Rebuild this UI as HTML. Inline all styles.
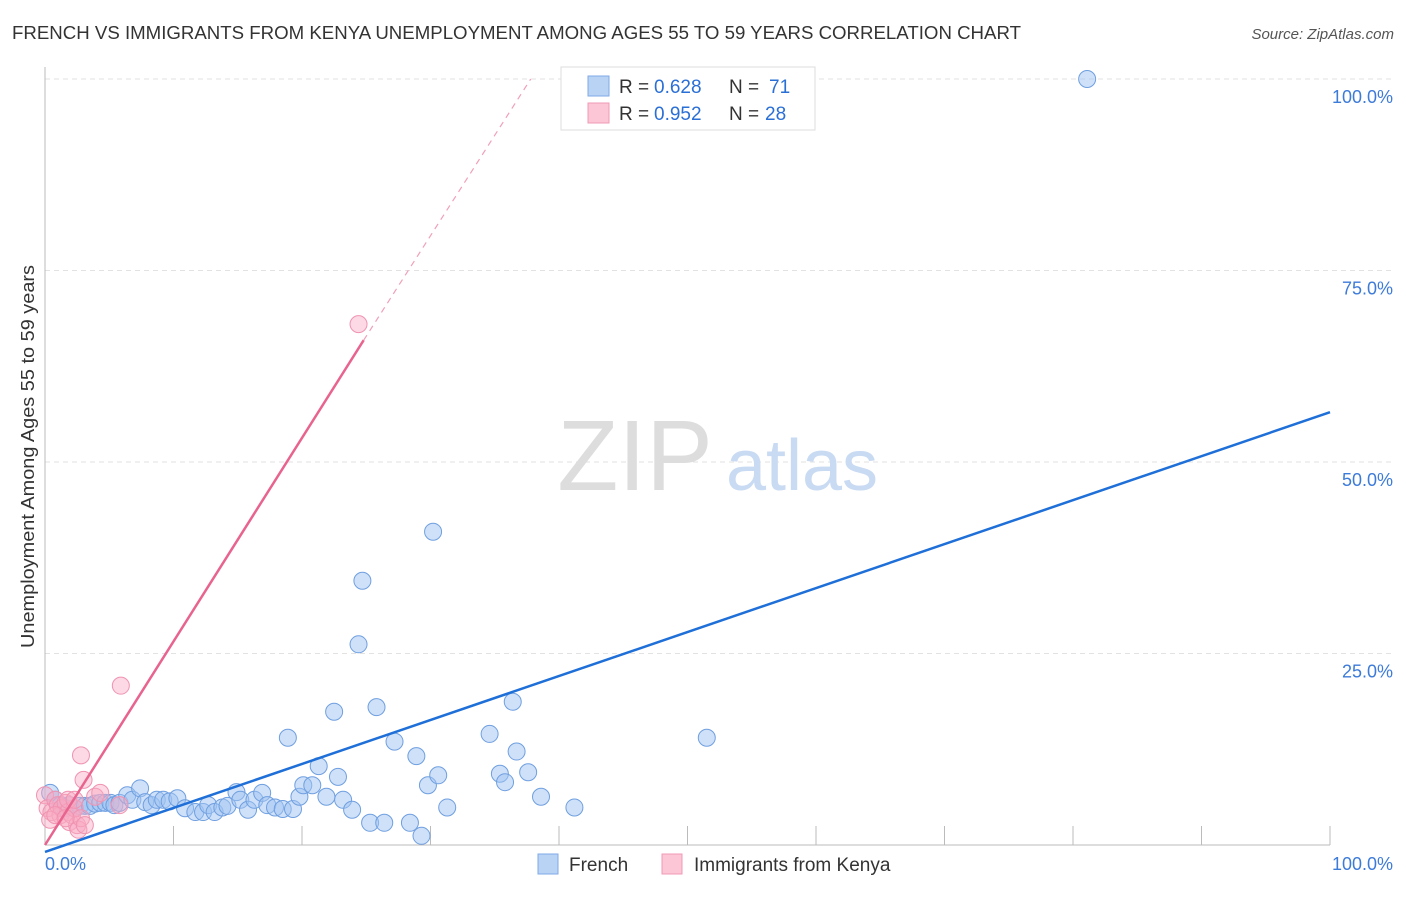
<!DOCTYPE html>
<html><head><meta charset="utf-8"><style>
body{margin:0;background:#fff;font-family:"Liberation Sans",sans-serif;}
svg text{font-family:"Liberation Sans",sans-serif;}
</style></head><body>
<svg id="chart" width="1406" height="892" xmlns="http://www.w3.org/2000/svg">
<text x="12" y="39" font-size="18" fill="#333" textLength="1009" lengthAdjust="spacingAndGlyphs">FRENCH VS IMMIGRANTS FROM KENYA UNEMPLOYMENT AMONG AGES 55 TO 59 YEARS CORRELATION CHART</text>
<text x="1394" y="39" font-size="15" fill="#555" text-anchor="end" font-style="italic">Source: ZipAtlas.com</text>
<text x="34" y="648" font-size="18" fill="#333" textLength="383" lengthAdjust="spacingAndGlyphs" transform="rotate(-90 34 648)">Unemployment Among Ages 55 to 59 years</text>
<g id="grid"></g>
<g><text x="635" y="490" font-size="100" fill="#ddd" font-family="Liberation Serif" text-anchor="middle">ZIP</text><text x="802" y="490" font-size="72" fill="#c9daf3" text-anchor="middle">atlas</text></g>
<g id="axes"></g>
<g id="pts"></g>
<g id="lines"></g>
<g>
<rect x="561" y="67" width="254" height="63" fill="#fff" stroke="#ddd"/>
<rect x="588" y="76" width="21" height="20" fill="#b9d3f5" stroke="#7fa9e6"/>
<rect x="588" y="103" width="21" height="20" fill="#fcc6d6" stroke="#f09ab5"/>
<text x="619" y="93" font-size="19" fill="#333">R =</text><text x="654" y="93" font-size="19" fill="#2a6fd6">0.628</text>
<text x="729" y="93" font-size="19" fill="#333">N =</text><text x="769" y="93" font-size="19" fill="#2a6fd6">71</text>
<text x="619" y="120" font-size="19" fill="#333">R =</text><text x="654" y="120" font-size="19" fill="#2a6fd6">0.952</text>
<text x="729" y="120" font-size="19" fill="#333">N =</text><text x="765" y="120" font-size="19" fill="#2a6fd6">28</text>
</g>
<g>
<rect x="538" y="854" width="20" height="20" fill="#b9d3f5" stroke="#7fa9e6"/>
<text x="569" y="871" font-size="19" fill="#333">French</text>
<rect x="662" y="854" width="20" height="20" fill="#fcc6d6" stroke="#f09ab5"/>
<text x="694" y="871" font-size="19" fill="#333">Immigrants from Kenya</text>
</g>
</svg>
<script>
const yTicks=[25,50,75,100];
const yTickLabels=["25.0%","50.0%","75.0%","100.0%"];
const xTickLabels=["0.0%","100.0%"];
const frenchX=[0.4,0.8,1.2,1.6,1.9,2.3,2.7,3.1,3.5,3.9,4.3,4.7,5.1,5.4,5.8,6.4,6.8,7.4,7.8,8.3,8.7,9.2,9.7,10.3,10.9,11.7,12.3,12.7,13.2,13.8,14.2,14.9,15.2,15.8,16.3,16.9,17.3,17.9,18.5,18.9,19.3,19.8,20.1,20.8,21.3,21.9,22.5,22.8,23.2,23.9,24.4,24.7,25.3,25.8,26.4,27.2,28.4,28.9,29.3,29.8,30.2,30.6,31.3,34.6,35.4,35.8,36.4,36.7,37.6,38.6,41.2,51.5,81.1];
const frenchY=[6.8,5.9,5.2,4.8,5.2,4.8,5.1,5.1,5.1,5.4,5.5,5.5,5.5,5.2,5.5,6.5,5.9,7.4,5.6,5.2,5.9,5.9,5.7,6.1,4.8,4.3,4.3,5.2,4.3,4.9,5.1,6.9,5.9,4.6,5.9,6.8,5.2,4.9,4.7,14.0,4.7,6.3,7.8,7.8,10.3,6.3,17.4,8.9,5.9,4.6,26.2,34.5,2.9,18.0,2.9,13.5,2.9,11.6,1.2,7.8,40.9,9.1,4.9,14.5,9.3,8.2,18.7,12.2,9.5,6.3,4.9,14.0,100];
const kenyaX=[0,0.2,0.5,0.8,1.0,1.2,1.3,1.6,1.8,1.9,2.1,2.3,2.5,2.6,2.8,3.1,0.4,0.8,1.6,2.8,3.0,3.9,4.3,5.8,5.9,24.4,1.8,2.3];
const kenyaY=[6.5,4.8,4.3,5.9,5.2,3.9,4.8,5.5,4.3,3.0,3.9,4.8,2.6,2.0,3.5,2.6,3.3,3.9,3.5,11.7,8.5,6.3,6.8,5.2,20.8,68.0,5.9,5.9];
const frenchFit=[-0.9,56.5];
const kenyaFit=[0,65.9,100];
const kenyaFitX=[0,24.8,37.8];
const X=v=>45+v*12.85, Y=v=>845-v*7.66;
const NS="http://www.w3.org/2000/svg";
function mk(t,a,p){const e=document.createElementNS(NS,t);for(const k in a)e.setAttribute(k,a[k]);p.appendChild(e);return e;}
const grid=document.getElementById('grid'),axes=document.getElementById('axes'),pts=document.getElementById('pts'),lines=document.getElementById('lines');
yTicks.forEach((t,i)=>{
 const l=mk('line',{x1:45,x2:1394,y1:Y(t),y2:Y(t),stroke:'#e2e2e2','stroke-dasharray':'5,4'},grid);
 
 
 const tx=mk('text',{x:1393,y:Y(t)+24,'font-size':18,fill:'#3d7bd9','text-anchor':'end'},axes);
 tx.textContent=yTickLabels[i];
 
 
});
mk('line',{x1:45,x2:45,y1:67,y2:845,stroke:'#bbb'},axes);
mk('line',{x1:45,x2:1330,y1:845,y2:845,stroke:'#bbb'},axes);
for(let i=1;i<=10;i++){const t=mk('line',{x1:X(i*10),x2:X(i*10),y1:826,y2:845,stroke:'#bbb'},axes);}
const xl0=mk('text',{x:45,y:870,'font-size':18,fill:'#3d7bd9'},axes);xl0.textContent=xTickLabels[0];


const xl1=mk('text',{x:1393,y:870,'font-size':18,fill:'#3d7bd9','text-anchor':'end'},axes);xl1.textContent=xTickLabels[1];


frenchX.forEach((v,i)=>{const c=mk('circle',{cx:X(v),cy:Y(frenchY[i]),r:8.5,fill:'rgba(160,196,242,0.5)',stroke:'#6f9fe0','stroke-width':1},pts);
 
 });
kenyaX.forEach((v,i)=>{const c=mk('circle',{cx:X(v),cy:Y(kenyaY[i]),r:8.5,fill:'rgba(248,170,195,0.45)',stroke:'#f093b1','stroke-width':1},pts);
 
 });
const bl=mk('line',{x1:X(0),y1:Y(frenchFit[0]),x2:X(100),y2:Y(frenchFit[1]),stroke:'#1f6fd8','stroke-width':2.5},lines);


const pl=mk('line',{x1:X(kenyaFitX[0]),y1:Y(kenyaFit[0]),x2:X(kenyaFitX[1]),y2:Y(kenyaFit[1]),stroke:'#e8648f','stroke-width':2.5},lines);


const pd=mk('line',{x1:X(kenyaFitX[1]),y1:Y(kenyaFit[1]),x2:X(kenyaFitX[2]),y2:Y(kenyaFit[2]),stroke:'#f0a0b8','stroke-width':1.2,'stroke-dasharray':'6,5'},lines);


</script>
</body></html>
